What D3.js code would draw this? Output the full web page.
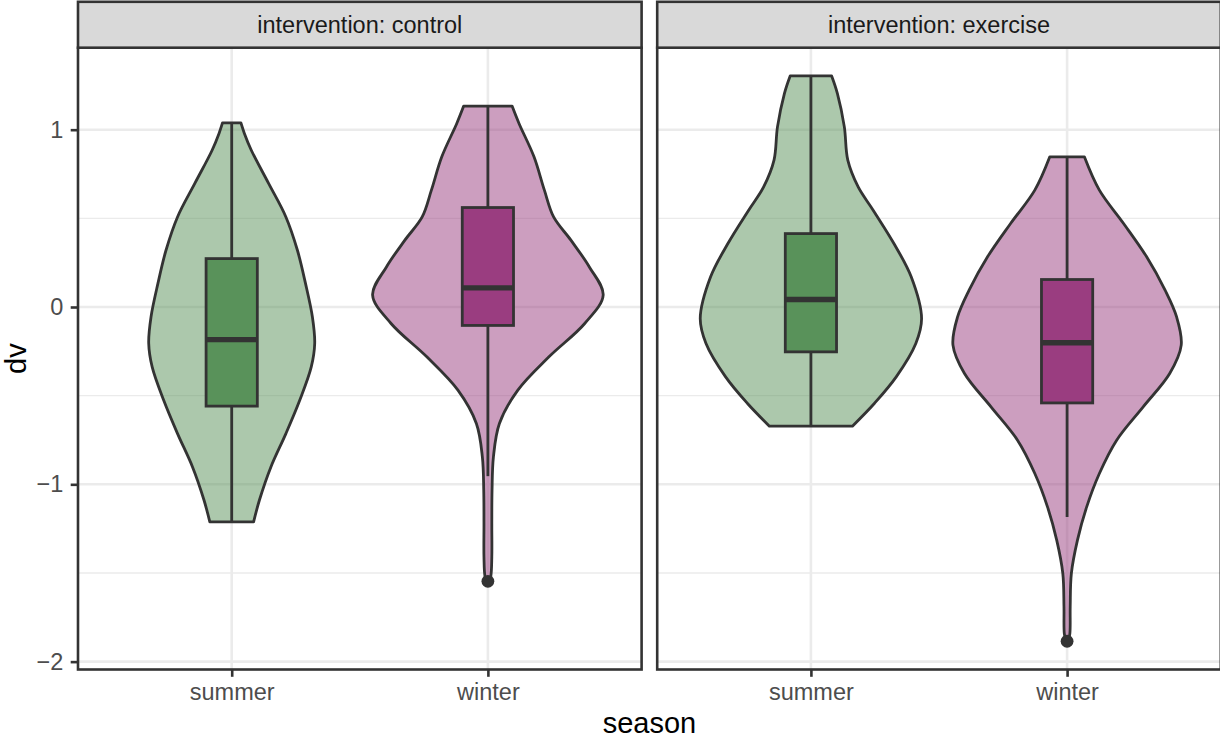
<!DOCTYPE html>
<html>
<head>
<meta charset="utf-8">
<script src="https://cdn.jsdelivr.net/npm/d3@7"></script>
<style>
  body { margin: 0; background: #fff; }
  svg { display: block; font-family: "Liberation Sans", Arial, sans-serif; }
</style>
</head>
<body>
<svg id="chart" width="1220" height="740"></svg>
<script>
// Facets, categories, ticks
const interventions = ['control', 'exercise'];
const seasons = ['summer', 'winter'];
const yTicks = [-2, -1, 0, 1];
const yMinorTicks = [-1.5, -0.5, 0.5];

// Violin outlines: [dv, relative density], top to bottom
const controlSummerDensity = [
    [1.038, 0.08], [0.979, 0.11], [0.884, 0.17], [0.697, 0.32], [0.508, 0.47], [0.320, 0.57],
    [0.133, 0.64], [-0.056, 0.70], [-0.204, 0.72], [-0.338, 0.69], [-0.526, 0.59],
    [-0.714, 0.47], [-0.902, 0.34], [-1.090, 0.24], [-1.212, 0.19]
];
const controlWinterDensity = [
    [1.133, 0.21], [1.035, 0.27], [0.847, 0.40], [0.659, 0.49], [0.508, 0.57], [0.377, 0.72],
    [0.226, 0.88], [0.067, 1.00], [-0.093, 0.84], [-0.281, 0.53], [-0.469, 0.26],
    [-0.657, 0.10], [-0.845, 0.048], [-1.033, 0.036], [-1.221, 0.034], [-1.410, 0.034],
    [-1.520, 0.025], [-1.547, 0.01]
];
const exerciseSummerDensity = [
    [1.303, 0.18], [1.204, 0.23], [1.016, 0.29], [0.828, 0.32], [0.677, 0.41], [0.546, 0.54],
    [0.358, 0.72], [0.170, 0.87], [-0.065, 0.96], [-0.206, 0.91], [-0.394, 0.74],
    [-0.544, 0.55], [-0.672, 0.36]
];
const exerciseWinterDensity = [
    [0.847, 0.15], [0.659, 0.28], [0.471, 0.49], [0.283, 0.69], [0.095, 0.85], [-0.056, 0.95],
    [-0.215, 0.99], [-0.375, 0.89], [-0.563, 0.66], [-0.751, 0.43], [-0.939, 0.28],
    [-1.127, 0.17], [-1.315, 0.09], [-1.503, 0.037], [-1.691, 0.027], [-1.842, 0.024],
    [-1.885, 0.01]
];

// Box stats: [lower whisker, q1, median, q3, upper whisker]
const controlSummerBox = [-1.212, -0.559, -0.184, 0.273, 1.038];
const controlWinterBox = [-0.954, -0.104, 0.108, 0.561, 1.133];
const exerciseSummerBox = [-0.672, -0.253, 0.042, 0.414, 1.303];
const exerciseWinterBox = [-1.184, -0.541, -0.202, 0.155, 0.847];

// Outliers
const controlWinterOutliers = [-1.547];
const exerciseWinterOutliers = [-1.885];

const groups = [
    { intervention: 'control', season: 'summer', density: controlSummerDensity, box: controlSummerBox, outliers: [] },
    { intervention: 'control', season: 'winter', density: controlWinterDensity, box: controlWinterBox, outliers: controlWinterOutliers },
    { intervention: 'exercise', season: 'summer', density: exerciseSummerDensity, box: exerciseSummerBox, outliers: [] },
    { intervention: 'exercise', season: 'winter', density: exerciseWinterDensity, box: exerciseWinterBox, outliers: exerciseWinterOutliers }
];

const fillColors = { summer: '#59925a', winter: '#9a3d80' };
const ink = '#333333';

// Layout
const panelTop = 47.7, panelBottom = 669.5;
const panelLeft = 78, panelWidth = 563.6, panelGap = 15.6;
const stripTop = 1.8;
const tickLen = 7.3;
const lineW = 2.8;

const svg = d3.select('#chart');

// Y scale with ggplot-like 5% expansion
const allValues = groups.flatMap(g => g.density.map(d => d[0]).concat(g.outliers));
const [lo, hi] = d3.extent(allValues);
const pad = (hi - lo) * 0.05;
const y = d3.scaleLinear().domain([lo - pad, hi + pad]).range([panelBottom, panelTop]);

interventions.forEach((iv, i) => {
    const x0 = panelLeft + i * (panelWidth + panelGap);
    const x = d3.scalePoint().domain(seasons).range([x0, x0 + panelWidth]).padding(0.6);
    const step = x.step();
    const halfWidth = d3.scaleLinear().domain([0, 1]).range([0, 0.45 * step]);
    const boxHalf = 0.1 * step;

    const g = svg.append('g');

    g.append('clipPath').attr('id', `clip-${iv}`)
        .append('rect')
        .attr('x', x0).attr('y', panelTop)
        .attr('width', panelWidth).attr('height', panelBottom - panelTop);

    const body = g.append('g').attr('clip-path', `url(#clip-${iv})`);

    // Grid
    body.selectAll('.minor')
        .data(yMinorTicks.filter(t => t >= y.domain()[0] && t <= y.domain()[1]))
        .enter().append('line')
        .attr('x1', x0).attr('x2', x0 + panelWidth)
        .attr('y1', d => y(d)).attr('y2', d => y(d))
        .attr('stroke', '#ebebeb').attr('stroke-width', 1.4);

    body.selectAll('.major')
        .data(yTicks)
        .enter().append('line')
        .attr('x1', x0).attr('x2', x0 + panelWidth)
        .attr('y1', d => y(d)).attr('y2', d => y(d))
        .attr('stroke', '#ebebeb').attr('stroke-width', 2.6);

    body.selectAll('.vmajor')
        .data(seasons)
        .enter().append('line')
        .attr('x1', d => x(d)).attr('x2', d => x(d))
        .attr('y1', panelTop).attr('y2', panelBottom)
        .attr('stroke', '#ebebeb').attr('stroke-width', 2.6);

    const panelGroups = groups.filter(d => d.intervention === iv);

    // Violins
    panelGroups.forEach(d => {
        const cx = x(d.season);
        const area = d3.area()
            .y(p => y(p[0]))
            .x0(p => cx - halfWidth(p[1]))
            .x1(p => cx + halfWidth(p[1]))
            .curve(d3.curveCatmullRom.alpha(0.5));
        body.append('path')
            .datum(d.density)
            .attr('d', area)
            .attr('fill', fillColors[d.season])
            .attr('fill-opacity', 0.5)
            .attr('stroke', ink)
            .attr('stroke-width', lineW)
            .attr('stroke-linejoin', 'round');
    });

    // Boxplots
    panelGroups.forEach(d => {
        const cx = x(d.season);
        const [wLo, q1, med, q3, wHi] = d.box;
        body.append('line')
            .attr('x1', cx).attr('x2', cx)
            .attr('y1', y(q3)).attr('y2', y(wHi))
            .attr('stroke', ink).attr('stroke-width', lineW);
        body.append('line')
            .attr('x1', cx).attr('x2', cx)
            .attr('y1', y(q1)).attr('y2', y(wLo))
            .attr('stroke', ink).attr('stroke-width', lineW);
        body.append('rect')
            .attr('x', cx - boxHalf).attr('y', y(q3))
            .attr('width', boxHalf * 2).attr('height', y(q1) - y(q3))
            .attr('fill', fillColors[d.season])
            .attr('stroke', ink).attr('stroke-width', lineW);
        body.append('line')
            .attr('x1', cx - boxHalf).attr('x2', cx + boxHalf)
            .attr('y1', y(med)).attr('y2', y(med))
            .attr('stroke', ink).attr('stroke-width', 5.4);
        body.selectAll(null)
            .data(d.outliers)
            .enter().append('circle')
            .attr('cx', cx).attr('cy', v => y(v))
            .attr('r', 6.4)
            .attr('fill', ink);
    });

    // Panel border
    g.append('rect')
        .attr('x', x0).attr('y', panelTop)
        .attr('width', panelWidth).attr('height', panelBottom - panelTop)
        .attr('fill', 'none').attr('stroke', ink).attr('stroke-width', 2.6);

    // Strip
    g.append('rect')
        .attr('x', x0).attr('y', stripTop)
        .attr('width', panelWidth).attr('height', panelTop - stripTop)
        .attr('fill', '#d9d9d9').attr('stroke', ink).attr('stroke-width', 2.6);
    g.append('text')
        .attr('x', x0 + panelWidth / 2).attr('y', 33.3)
        .attr('text-anchor', 'middle')
        .attr('font-size', '23.5px')
        .attr('fill', '#1a1a1a')
        .text(`intervention: ${iv}`);

    // X axis
    const xAxis = g.append('g')
        .attr('transform', `translate(0,${panelBottom})`)
        .call(d3.axisBottom(x).tickSize(tickLen).tickPadding(6.3));
    xAxis.select('.domain').remove();
    xAxis.selectAll('line').attr('stroke', ink).attr('stroke-width', 2.6);
    xAxis.selectAll('text')
        .attr('font-size', '23.5px')
        .attr('font-family', '"Liberation Sans", Arial, sans-serif')
        .attr('fill', '#4d4d4d');
});

// Y axis
const yAxis = svg.append('g')
    .attr('transform', `translate(${panelLeft},0)`)
    .call(d3.axisLeft(y).tickValues(yTicks).tickFormat(d3.format('d')).tickSize(tickLen).tickPadding(7.4));
yAxis.select('.domain').remove();
yAxis.selectAll('line').attr('stroke', ink).attr('stroke-width', 2.6);
yAxis.selectAll('text')
    .attr('font-size', '23.5px')
    .attr('font-family', '"Liberation Sans", Arial, sans-serif')
    .attr('fill', '#4d4d4d');

// Axis titles
svg.append('text')
    .attr('x', panelLeft + (2 * panelWidth + panelGap) / 2)
    .attr('y', 733.3)
    .attr('text-anchor', 'middle')
    .attr('font-size', '29px')
    .attr('fill', '#000')
    .text('season');

svg.append('text')
    .attr('transform', `translate(26,${(panelTop + panelBottom) / 2}) rotate(-90)`)
    .attr('text-anchor', 'middle')
    .attr('font-size', '29px')
    .attr('fill', '#000')
    .text('dv');
</script>
</body>
</html>
